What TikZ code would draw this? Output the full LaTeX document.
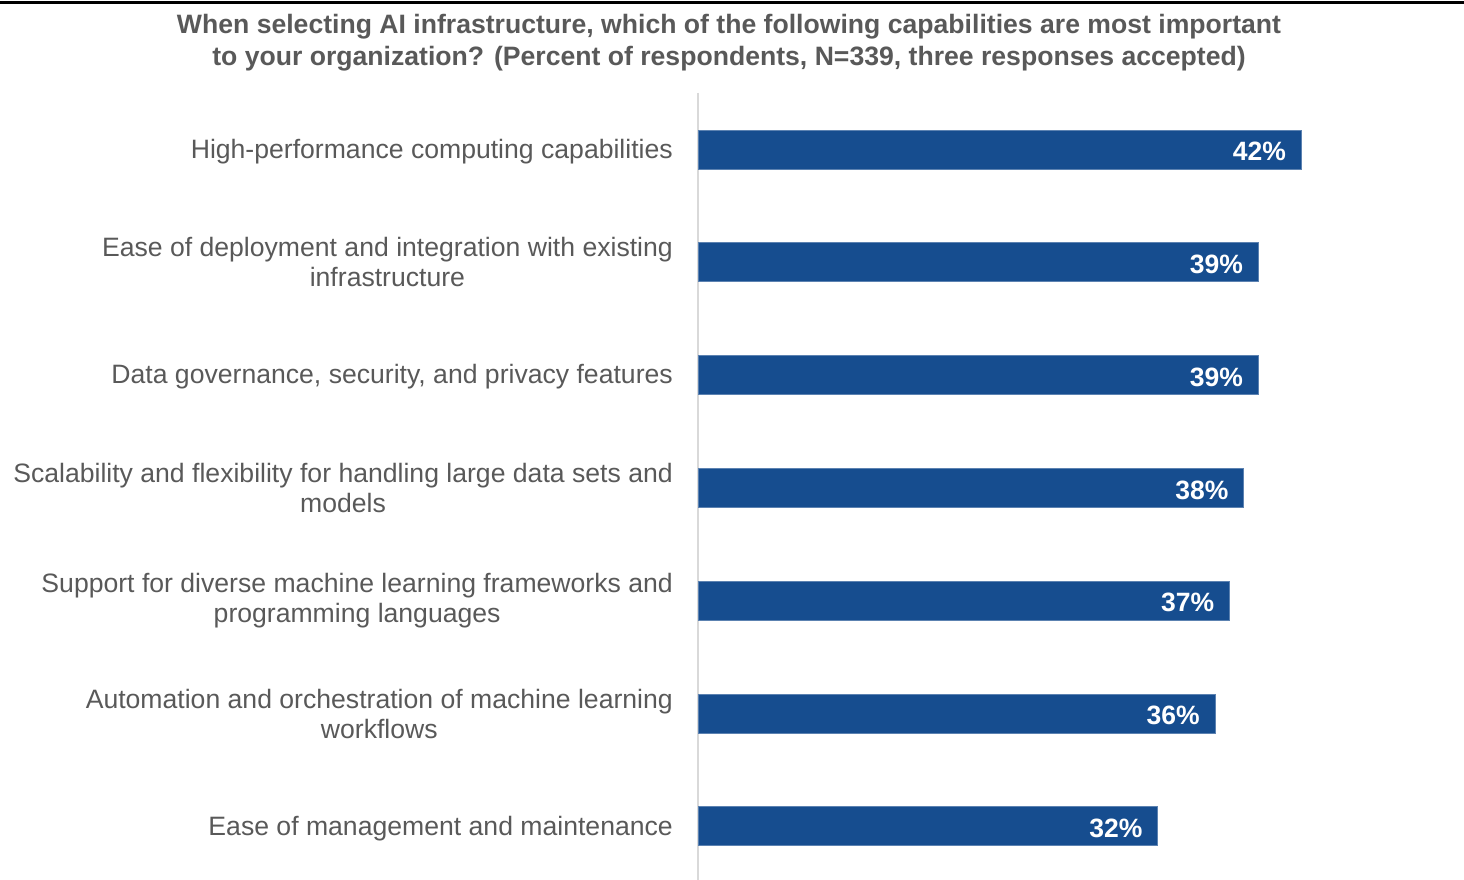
\documentclass[tikz,border=0pt]{standalone}
\usepackage{fontspec}
\setmainfont{Liberation Sans}
\definecolor{barblue}{HTML}{164D8F}
\definecolor{txtgray}{HTML}{595959}
\definecolor{axisgray}{HTML}{D9D9D9}
\begin{document}
\begin{tikzpicture}[x=1pt,y=-1pt,
  cat/.style={anchor=east,align=center,text=txtgray,font=\fontsize{26.6}{30}\selectfont,inner sep=0pt},
  val/.style={anchor=east,text=white,font=\bfseries\fontsize{26.5}{30}\selectfont,inner sep=0pt},
  bar/.style={fill=barblue,draw=barblue!70!white,line width=0.8pt},
  ttl/.style={align=center,text=txtgray,font=\bfseries\fontsize{26.6}{32}\selectfont,inner sep=0pt}]
\useasboundingbox (0,0) rectangle (1464,880);
\draw[line width=3pt,black] (0,3) -- (1464,3);
\node[ttl] (title) at (729,43) {When selecting AI infrastructure, which of the following capabilities are most important\\to your organization? (Percent of respondents, N=339, three responses accepted)};
\coordinate (axtop) at (697.5,93);
\coordinate (axbot) at (697.5,880);
\draw[axisgray,line width=2pt] (axtop) -- (axbot);
\foreach \i/\v/\dy/\lab in {
 1/42/2/{High-performance computing capabilities},
 2/39/0/{Ease of deployment and integration with existing\\infrastructure},
 3/39/2/{Data governance, security, and privacy features},
 4/38/0/{Scalability and flexibility for handling large data sets and\\models},
 5/37/0/{Support for diverse machine learning frameworks and\\programming languages},
 6/36/0/{Automation and orchestration of machine learning\\workflows},
 7/32/2/{Ease of management and maintenance}}{
  \pgfmathsetmacro{\yc}{149.5+(\i-1)*112.8}
  \pgfmathsetmacro{\xe}{698+\v*14.36}
  \draw[bar] (698,\yc-19.5) rectangle (\xe,\yc+19.5);
  \node[val] (v\i) at (\xe-15,\yc+2) {\v\%};
  \node[cat] (c\i) at (673,\yc+\dy) {\lab};
}
\end{tikzpicture}
\end{document}
